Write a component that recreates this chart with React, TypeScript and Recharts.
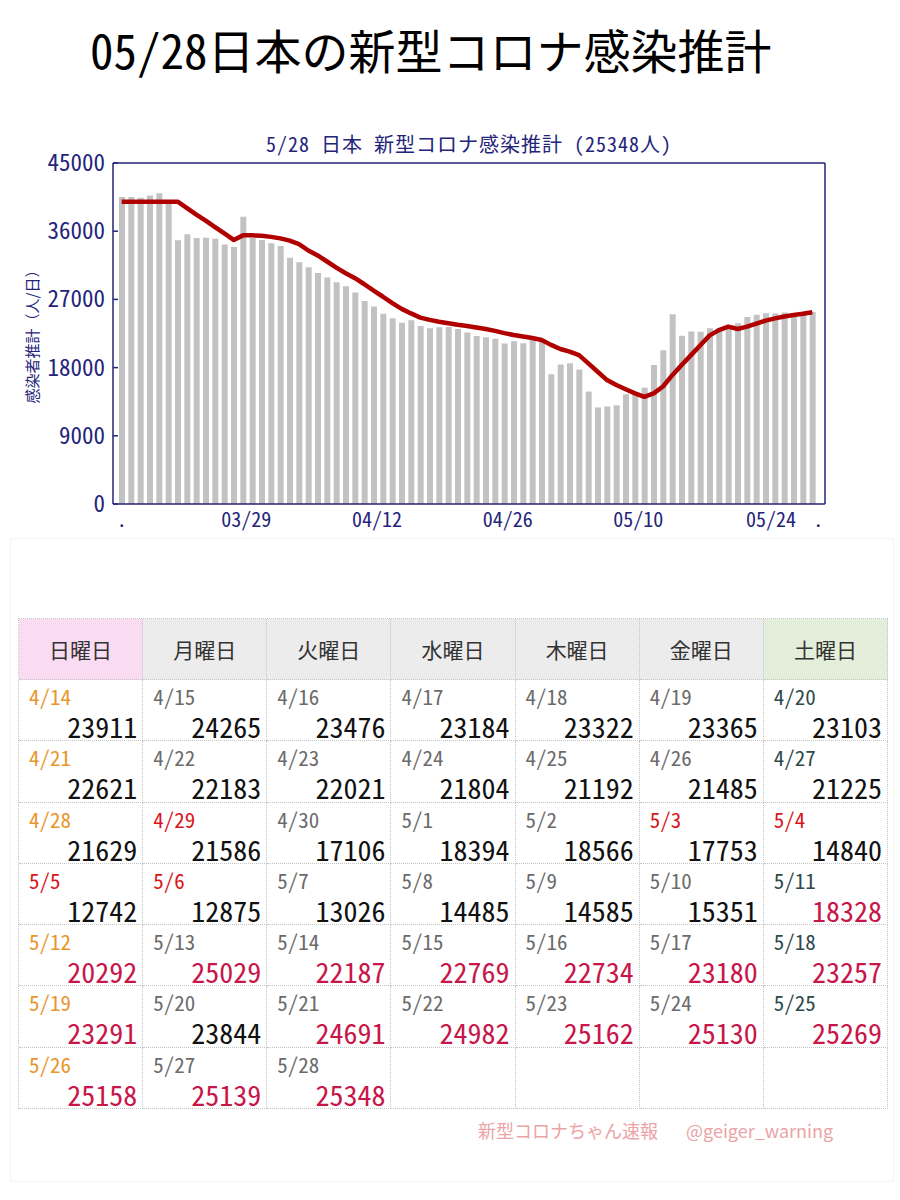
import React from 'react';
import { ComposedChart, Bar, Line, XAxis, YAxis } from 'recharts';

const NAVY = '#24247a';
const JP = '"Noto Sans CJK JP", "Noto Sans", sans-serif';
const HWID = { fontFeatureSettings: '"hwid"' };

// daily categories 03/15 .. 05/28
const dates = [
  '03/15', '03/16', '03/17', '03/18', '03/19', '03/20', '03/21', '03/22', '03/23', '03/24',
  '03/25', '03/26', '03/27', '03/28', '03/29', '03/30', '03/31',
  '04/01', '04/02', '04/03', '04/04', '04/05', '04/06', '04/07', '04/08', '04/09', '04/10',
  '04/11', '04/12', '04/13', '04/14', '04/15', '04/16', '04/17', '04/18', '04/19', '04/20',
  '04/21', '04/22', '04/23', '04/24', '04/25', '04/26', '04/27', '04/28', '04/29', '04/30',
  '05/01', '05/02', '05/03', '05/04', '05/05', '05/06', '05/07', '05/08', '05/09', '05/10',
  '05/11', '05/12', '05/13', '05/14', '05/15', '05/16', '05/17', '05/18', '05/19', '05/20',
  '05/21', '05/22', '05/23', '05/24', '05/25', '05/26', '05/27', '05/28',
];

// 03/15 .. 04/13
const earlyCases = [
  40500, 40500, 40400, 40700, 41000, 40100, 34800, 35600, 35100, 35150,
  35000, 34250, 33900, 37900, 35100, 34850, 34400, 34050, 32500, 31900,
  31250, 30500, 29900, 29250, 28750, 27900, 26800, 26050, 25100, 24500,
];

// 04/14 .. 05/28, from the table
const tableCases = [
  23911, 24265, 23476, 23184, 23322, 23365, 23103,
  22621, 22183, 22021, 21804, 21192, 21485, 21225,
  21629, 21586, 17106, 18394, 18566, 17753, 14840,
  12742, 12875, 13026, 14485, 14585, 15351, 18328,
  20292, 25029, 22187, 22769, 22734, 23180, 23257,
  23291, 23844, 24691, 24982, 25162, 25130, 25269,
  25158, 25139, 25348,
];

// red trend line
const trend = [
  39900, 39900, 39900, 39900, 39900, 39900, 39900, 39050, 38200, 37400,
  36550, 35700, 34850, 35450, 35450, 35400, 35250, 35050, 34750, 34300,
  33450, 32800, 32000, 31200, 30450, 29800, 29000, 28150, 27350, 26500,
  25750, 25150, 24600, 24300, 24050, 23850, 23650, 23500, 23300, 23100,
  22850, 22550, 22300, 22100, 21900, 21650, 21000, 20450, 20100, 19650,
  18550, 17450, 16350, 15700, 15150, 14600, 14150, 14600, 15500, 17000,
  18350, 19650, 20950, 22250, 22950, 23400, 23100, 23400, 23800, 24200,
  24500, 24750, 24950, 25100, 25300,
];

const xTickDates = ['03/15', '03/29', '04/12', '04/26', '05/10', '05/24', '05/28'];
const xTickLabels = ['.', '03/29', '04/12', '04/26', '05/10', '05/24', '.'];
const xTickShift = [0, -6, -6, -6, -6, -4, 6];
const yTicks = [0, 9000, 18000, 27000, 36000, 45000];

const weekdays = ['日曜日', '月曜日', '火曜日', '水曜日', '木曜日', '金曜日', '土曜日'];
const headerColors = ['#fadcf2', '#ececec', '#ececec', '#ececec', '#ececec', '#ececec', '#e3efdb'];
const holidays = ['4/29', '5/3', '5/4', '5/5', '5/6'];
const redValueDates = [
  '5/11', '5/12', '5/13', '5/14', '5/15', '5/16', '5/17', '5/18', '5/19',
  '5/21', '5/22', '5/23', '5/24', '5/25', '5/26', '5/27', '5/28',
];

const allCases = [...earlyCases, ...tableCases];
const chartData = dates.map((date, i) => ({ date, cases: allCases[i], trend: trend[i] }));
const tableDates = dates.slice(earlyCases.length).map((d) => d.replace(/^0/, '').replace('/0', '/'));

const XTick = ({ x, y, payload }: any) => {
  const idx = xTickDates.indexOf(payload.value);
  return (
    <text x={x} y={y} dx={xTickShift[idx]} dy={15} textAnchor="middle" fill={NAVY} fontSize={20} fontFamily={JP} style={HWID}>
      {xTickLabels[idx]}
    </text>
  );
};

const YTick = ({ x, y, payload }: any) => (
  <text x={x} y={y} dy={8} textAnchor="end" fill={NAVY} fontSize={23} fontFamily={JP} style={HWID}>
    {payload.value}
  </text>
);

const dateColor = (d: string, col: number) => {
  if (holidays.includes(d)) return '#d9161c';
  if (col === 0) return '#e8962c';
  if (col === 6) return '#2f4a4a';
  return '#6b6b6b';
};

const CalendarTable = () => {
  const cells = [];
  for (let i = 0; i < 49; i++) cells.push(i < tableDates.length ? i : -1);
  return (
    <div
      style={{
        position: 'absolute', left: 18, top: 618, width: 869,
        display: 'grid', gridTemplateColumns: 'repeat(7, 1fr)',
        borderTop: '1px dotted #c4c4c4', borderLeft: '1px dotted #c4c4c4',
        fontFamily: JP,
      }}
    >
      {weekdays.map((w, c) => (
        <div
          key={w}
          style={{
            height: 61, background: headerColors[c], color: '#333', fontSize: 21,
            display: 'flex', alignItems: 'center', justifyContent: 'center',
            borderRight: '1px dotted #c4c4c4', borderBottom: '1px dotted #c4c4c4', boxSizing: 'border-box',
          }}
        >
          {w}
        </div>
      ))}
      {cells.map((idx, k) => {
        const col = k % 7;
        const d = idx >= 0 ? tableDates[idx] : '';
        return (
          <div
            key={k}
            style={{
              position: 'relative', height: 61.3, boxSizing: 'border-box',
              borderRight: '1px dotted #c4c4c4', borderBottom: '1px dotted #c4c4c4',
            }}
          >
            {idx >= 0 && (
              <>
                <div style={{ position: 'absolute', left: 10, top: 6, fontSize: 21, lineHeight: '21px', color: dateColor(d, col), ...HWID }}>
                  {d}
                </div>
                <div
                  style={{
                    position: 'absolute', right: 5, top: 32, fontSize: 28, lineHeight: '28px',
                    color: redValueDates.includes(d) ? '#c8164a' : '#111', ...HWID,
                  }}
                >
                  {tableCases[idx]}
                </div>
              </>
            )}
          </div>
        );
      })}
    </div>
  );
};

export default function App() {
  return (
    <div style={{ position: 'absolute', left: 0, top: 0, width: 900, height: 1200, background: '#fff', overflow: 'hidden' }}>
      <div style={{ position: 'absolute', left: 90, top: 25, fontFamily: JP, fontSize: 47, lineHeight: '47px', color: '#000', whiteSpace: 'nowrap', ...HWID }}>
        05/28日本の新型コロナ感染推計
      </div>

      <div style={{ position: 'absolute', left: 113, width: 712, top: 133, textAlign: 'center', fontFamily: JP, fontSize: 20, lineHeight: '22px', letterSpacing: 1, color: NAVY, whiteSpace: 'nowrap', ...HWID }}>
        5/28 日本 新型コロナ感染推計 （25348人）
      </div>

      <div
        style={{
          position: 'absolute', left: 31, top: 333, transform: 'translate(-50%, -50%) rotate(-90deg)',
          fontFamily: JP, fontSize: 15, color: NAVY, whiteSpace: 'nowrap',
        }}
      >
        感染者推計（人/日）
      </div>

      <div style={{ position: 'absolute', left: 0, top: 120 }}>
        <ComposedChart width={900} height={440} data={chartData} margin={{ top: 42, right: 74, left: 0, bottom: 26 }}>
          <XAxis
            dataKey="date"
            height={30}
            ticks={xTickDates}
            interval={0}
            tick={<XTick />}
            tickLine={false}
            padding={{ left: 4, right: 8 }}
            axisLine={{ stroke: NAVY, strokeWidth: 1.5 }}
          />
          <XAxis
            xAxisId="top"
            orientation="top"
            dataKey="date"
            height={1}
            padding={{ left: 4, right: 8 }}
            tick={false}
            tickLine={false}
            axisLine={{ stroke: NAVY, strokeWidth: 1.5 }}
          />
          <YAxis
            width={113}
            type="number"
            domain={[0, 45000]}
            ticks={yTicks}
            interval={0}
            tick={<YTick />}
            tickLine={false}
            axisLine={{ stroke: NAVY, strokeWidth: 1.5 }}
          />
          <YAxis
            yAxisId="inner"
            mirror
            width={1}
            type="number"
            domain={[0, 45000]}
            ticks={yTicks}
            interval={0}
            tickSize={5}
            tick={() => <g />}
            tickLine={{ stroke: NAVY, strokeWidth: 1.5 }}
            axisLine={false}
          />
          <YAxis
            yAxisId="right"
            orientation="right"
            width={1}
            type="number"
            domain={[0, 45000]}
            tick={false}
            tickLine={false}
            axisLine={{ stroke: NAVY, strokeWidth: 1.5 }}
          />
          <Bar dataKey="cases" fill="#c2c2c2" barSize={6} isAnimationActive={false} />
          <Line
            dataKey="trend"
            type="linear"
            stroke="#b00000"
            strokeWidth={4.5}
            strokeLinejoin="round"
            dot={false}
            isAnimationActive={false}
          />
          {/* invisible series so the frame axes get a domain */}
          <Line yAxisId="inner" dataKey="trend" stroke="none" dot={false} activeDot={false} legendType="none" isAnimationActive={false} />
          <Line xAxisId="top" yAxisId="right" dataKey="trend" stroke="none" dot={false} activeDot={false} legendType="none" isAnimationActive={false} />
        </ComposedChart>
      </div>

      <div style={{ position: 'absolute', left: 10, top: 538, width: 884, height: 644, border: '1px solid #f4f4f4', boxSizing: 'border-box' }} />

      <CalendarTable />

      <div style={{ position: 'absolute', left: 478, top: 1120, fontFamily: JP, fontSize: 18, lineHeight: '20px', color: '#eba3a6', whiteSpace: 'nowrap' }}>
        新型コロナちゃん速報<span style={{ marginLeft: 28, fontSize: 18 }}>@geiger_warning</span>
      </div>
    </div>
  );
}
